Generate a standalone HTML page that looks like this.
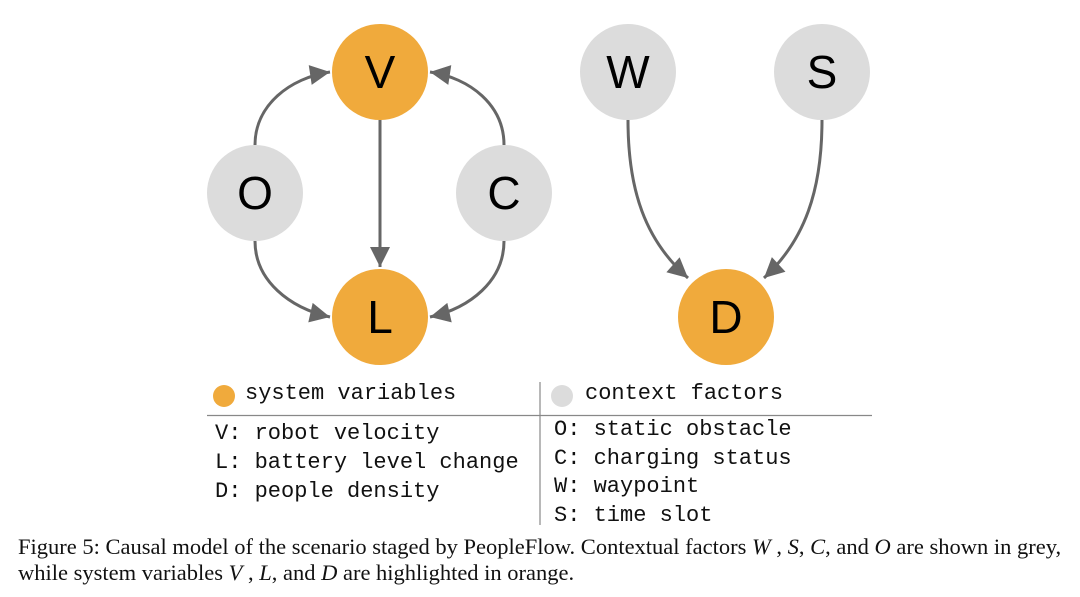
<!DOCTYPE html>
<html><head><style>
body{margin:0;background:#fff;width:1080px;height:597px;overflow:hidden;position:relative}
.m{font-family:"Liberation Mono",monospace;font-size:22px;position:absolute;color:#111;white-space:pre}
.cap{font-family:"Liberation Serif",serif;font-size:22.5px;position:absolute;left:18px;white-space:pre;color:#111}
</style></head><body>
<svg width="1080" height="597" style="position:absolute;left:0;top:0">
<defs>
<marker id="b" viewBox="0 0 10 10" markerWidth="22" markerHeight="20" refX="10" refY="5" orient="auto" markerUnits="userSpaceOnUse"><path d="M0,0 L10,5 L0,10 Z" fill="#666"/></marker></defs>
<g stroke="#666" stroke-width="3" fill="none">
<path d="M255,145 C255,105 290,78 330,72" marker-end="url(#b)"/>
<path d="M504,145 C504,105 470,78 430,72" marker-end="url(#b)"/>
<path d="M255,241 C255,281 290,308 330,317" marker-end="url(#b)"/>
<path d="M504,241 C504,281 470,308 430,317" marker-end="url(#b)"/>
<path d="M380,120 L380,267" marker-end="url(#b)"/>
<path d="M628,120 C628,190 645,240 688,278" marker-end="url(#b)"/>
<path d="M822,120 C822,190 805,240 764,278" marker-end="url(#b)"/>
</g>
<g font-family="Liberation Sans,sans-serif" font-size="46" text-anchor="middle">
<circle cx="380" cy="72" r="48" fill="#F0AA3C"/><text x="380" y="88">V</text>
<circle cx="380" cy="317" r="48" fill="#F0AA3C"/><text x="380" y="333">L</text>
<circle cx="726" cy="317" r="48" fill="#F0AA3C"/><text x="726" y="333">D</text>
<circle cx="255" cy="193" r="48" fill="#DCDCDC"/><text x="255" y="209">O</text>
<circle cx="504" cy="193" r="48" fill="#DCDCDC"/><text x="504" y="209">C</text>
<circle cx="628" cy="72" r="48" fill="#DCDCDC"/><text x="628" y="88">W</text>
<circle cx="822" cy="72" r="48" fill="#DCDCDC"/><text x="822" y="88">S</text>
</g>
<circle cx="224" cy="396" r="11" fill="#F0AA3C"/>
<circle cx="562" cy="396" r="11" fill="#DCDCDC"/>
<line x1="540" y1="382" x2="540" y2="525" stroke="#888" stroke-width="1.2"/>
<line x1="207" y1="415.5" x2="872" y2="415.5" stroke="#888" stroke-width="1.2"/>
</svg>
<div class="m" style="left:245px;top:381px">system variables</div>
<div class="m" style="left:585px;top:381px">context factors</div>
<div class="m" style="left:215px;top:421px">V: robot velocity</div>
<div class="m" style="left:215px;top:450px">L: battery level change</div>
<div class="m" style="left:215px;top:479px">D: people density</div>
<div class="m" style="left:554px;top:417px">O: static obstacle</div>
<div class="m" style="left:554px;top:446px">C: charging status</div>
<div class="m" style="left:554px;top:474px">W: waypoint</div>
<div class="m" style="left:554px;top:503px">S: time slot</div>
<div class="cap" style="top:534px">Figure 5: Causal model of the scenario staged by PeopleFlow. Contextual factors <i>W</i> , <i>S</i>, <i>C</i>, and <i>O</i> are shown in grey,</div>
<div class="cap" style="top:560px">while system variables <i>V</i> , <i>L</i>, and <i>D</i> are highlighted in orange.</div>
</body></html>
